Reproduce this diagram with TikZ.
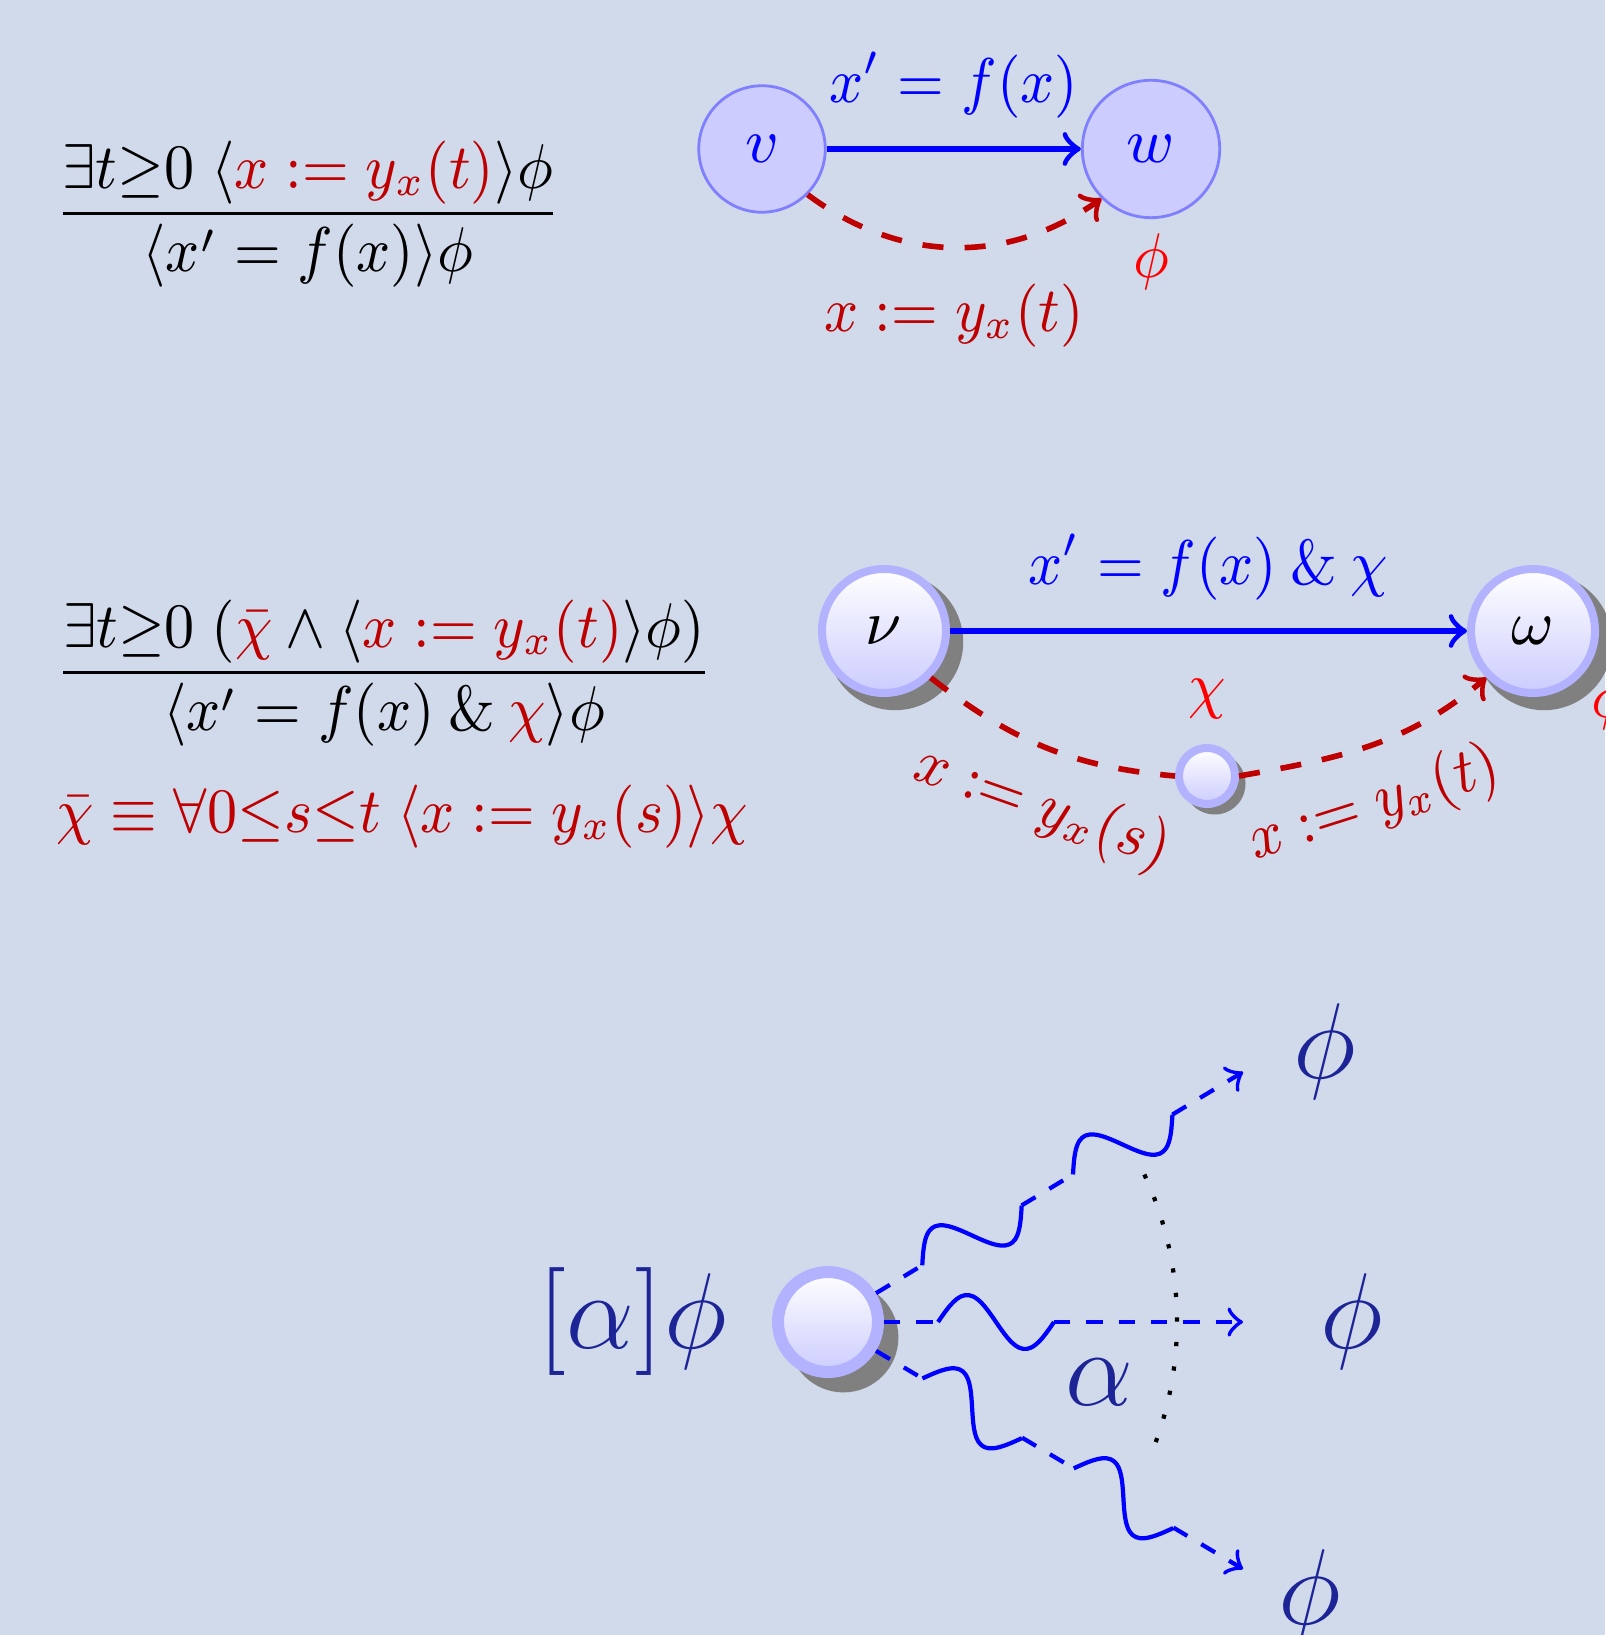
\documentclass[tikz,border=0pt]{standalone}
\usepackage{amsmath}
\usetikzlibrary{positioning,calc,shadows}
\definecolor{slidebg}{RGB}{208,218,235}
\definecolor{alertred}{RGB}{190,0,0}
\definecolor{deepblue}{RGB}{28,36,150}

\begin{document}
\begin{tikzpicture}[font=\fontsize{9}{11}\selectfont,
  lab/.style={xscale=0.925},
  vtx/.style={circle, draw=blue!50, fill=blue!20, text=blue, inner sep=4.2pt},
  ball/.style={circle, draw=blue!30, line width=0.04cm, inner sep=0pt,
    top color=white, bottom color=blue!20,
    drop shadow={shadow xshift=#1, shadow yshift=-#1, shadow scale=1.1, fill=gray, opacity=1}},
  ball/.default=0.05cm,
  flow/.style={->, thick, blue},
  jump/.style={->, thick, dashed, alertred},
  ray/.style={semithick, blue, dash pattern=on 2.3pt off 2.3pt},
  wave/.style={semithick, blue},
  big/.style={font=\Large, text=deepblue, scale=1.065}]
\fill[slidebg] (0,0) rectangle (8.025,-8.175);
\useasboundingbox (0,0) rectangle (8.025,-8.175);

\node[lab, anchor=base] (ode) at (1.54,-1.145)
  {$\dfrac{\exists t{\geq}0\;\langle\textcolor{alertred}{x := y_x(t)}\rangle\phi}{\langle x' = f(x)\rangle\phi}$};
\node[vtx] (v) at (3.81,-0.745) {$v$};
\node[vtx, label={[lab, red, yshift=1.5pt]below:$\phi$}] (w) at (5.755,-0.745) {$w$};
\draw[flow] (v) -- node[lab, above=0.6pt] {$x' = f(x)$} (w);
\draw[jump] (v.south east) to[bend right=36] node[lab, below=1.5pt] {$x := y_x(t)$} (w.south west);

\node[lab, anchor=base] (dode) at (1.92,-3.44)
  {$\dfrac{\exists t{\geq}0\;(\textcolor{alertred}{\bar\chi} \land \langle\textcolor{alertred}{x := y_x(t)}\rangle\phi)}{\langle x' = f(x) \mathbin{\&} \textcolor{alertred}{\chi}\rangle\phi}$};
\node[lab, anchor=base, alertred] (chibar) at (2.01,-4.16)
  {$\bar\chi \equiv \forall 0{\leq}s{\leq}t\;\langle x := y_x(s)\rangle\chi$};
\node[ball, minimum size=0.62cm] (nu) at (4.42,-3.155) {$\nu$};
\node[ball, minimum size=0.62cm, label={[lab, red, inner sep=0.5pt]-35:$\phi$}] (om) at (7.665,-3.155) {$\omega$};
\node[ball=0.035cm, minimum size=0.28cm, label={[lab, red]above:$\chi$}] (mid) at (6.035,-3.88) {};
\draw[flow] (nu) -- node[lab, above=0.6pt] {$x' = f(x) \mathbin{\&} \chi$} (om);
\draw[jump, -] (nu.south east) to[out=-38, in=175] node[lab, below, sloped, pos=0.57] {$x := y_x(s)$} (mid.west);
\draw[jump] (mid.east) to[out=10, in=-140] node[lab, below, sloped, pos=0.44] {$x := y_x(t)$} (om.south west);

\node[ball=0.07cm, line width=0.06cm, minimum size=0.5cm] (now) at (4.14,-6.61) {};
\node[big] (box) at (3.16,-6.61) {$[\alpha]\phi$};
\coordinate (tip1) at (6.215,-5.36);
\coordinate (tip2) at (6.215,-6.61);
\coordinate (tip3) at (6.215,-7.845);
\node[big] (phi1) at (6.625,-5.26) {$\phi$};
\node[big] (phi2) at (6.76,-6.61) {$\phi$};
\node[big] (phi3) at (6.55,-7.99) {$\phi$};
\node[big] (prog) at (5.495,-6.91) {$\alpha$};
\foreach \a/\t in {31/tip1,0/tip2,-31/tip3} {
  \draw[ray] (now.\a) -- ($(now.\a)!0.27cm!(\t)$);
  \draw[wave, shift={($(now.\a)!0.27cm!(\t)$)}, rotate=\a]
    plot[domain=0:0.58, samples=31, smooth] (\x,{0.135*sin(\x/0.58*360)});
}
\foreach \a/\t in {31/tip1,-31/tip3} {
  \draw[ray] ($(now.\a)!0.85cm!(\t)$) -- ($(now.\a)!1.15cm!(\t)$);
  \draw[wave, shift={($(now.\a)!1.15cm!(\t)$)}, rotate=\a]
    plot[domain=0:0.58, samples=31, smooth] (\x,{0.135*sin(\x/0.58*360)});
  \draw[ray, ->] ($(now.\a)!1.73cm!(\t)$) -- (\t);
}
\draw[ray, ->] ($(now.0)!0.85cm!(tip2)$) -- (tip2);
\draw[line width=0.6pt, dash pattern=on 0.6pt off 2.9pt] ($(now.center)+(25:1.745)$) arc[start angle=25, end angle=-22, radius=1.745];
\end{tikzpicture}
\end{document}
